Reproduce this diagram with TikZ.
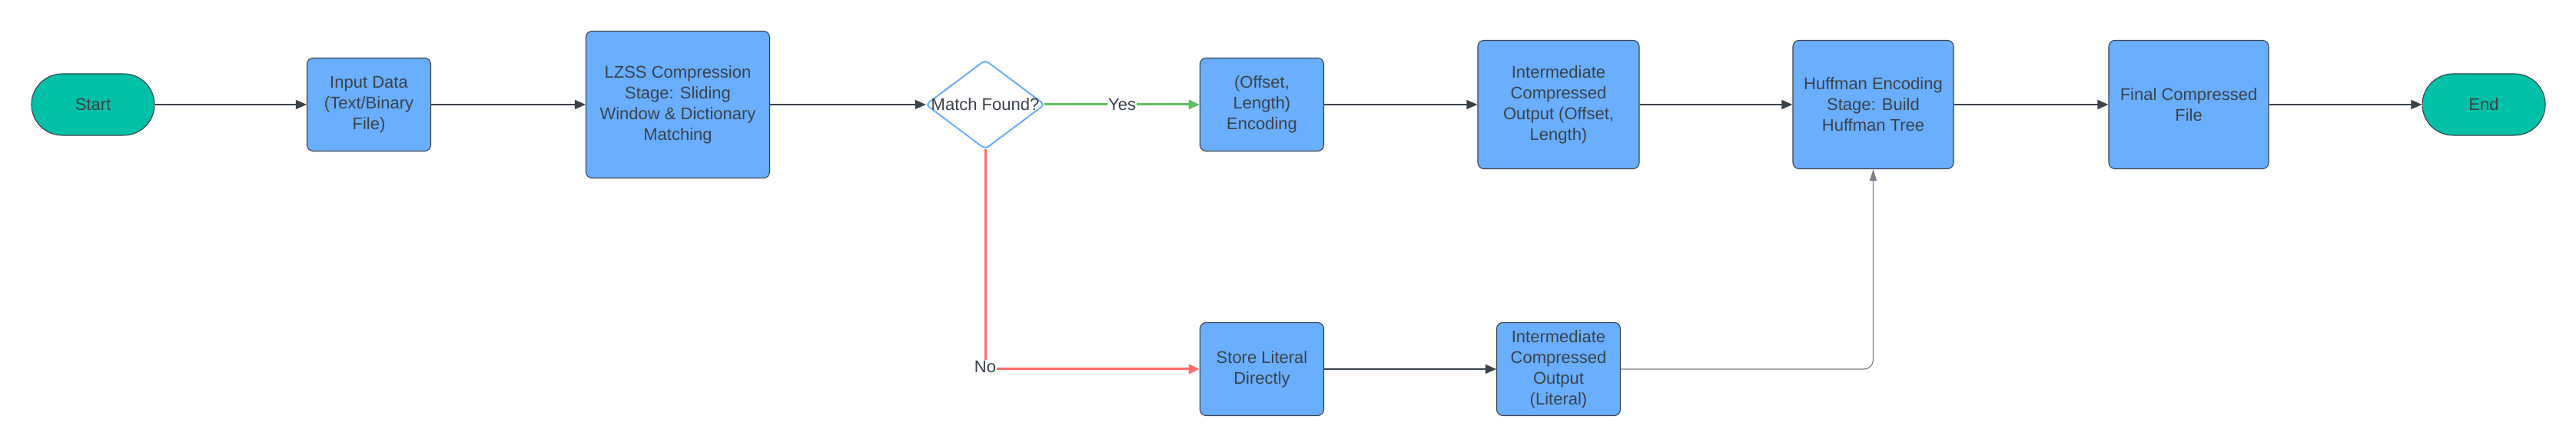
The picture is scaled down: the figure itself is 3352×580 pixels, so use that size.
\documentclass[tikz,border=0pt]{standalone}
\usepackage{fontspec}
\setmainfont{Liberation Sans}
\usetikzlibrary{arrows.meta}
\definecolor{boxblue}{HTML}{6AAFFF}
\definecolor{termteal}{HTML}{00C1A7}
\definecolor{ink}{HTML}{3A414A}
\definecolor{yesgreen}{HTML}{5CC05C}
\definecolor{nored}{HTML}{FF6B6B}
\definecolor{feedgray}{HTML}{7A8088}
\begin{document}
\begin{tikzpicture}[x=1pt,y=1pt,
  font=\fontsize{22}{27}\selectfont, text=ink,
  proc/.style={rectangle, rounded corners=8pt, fill=boxblue, draw=ink,
    line width=1.1pt, align=center, inner sep=0pt},
  term/.style={rectangle, rounded corners=40pt, fill=termteal, draw=ink,
    line width=1.1pt, minimum width=160pt, minimum height=80pt, inner sep=0pt},
  decnode/.style={rectangle, inner sep=0pt, minimum width=154pt, minimum height=115pt},
  decborder/.style={draw=boxblue, line width=2pt, fill=white, rounded corners=5pt},
  flow/.style={draw=ink, line width=1.2pt, -{Triangle[length=14pt,width=12pt]}},
  yesflow/.style={draw=yesgreen, line width=3pt, -{Triangle[length=14pt,width=12pt]}},
  noflow/.style={draw=nored, line width=3pt, -{Triangle[length=14pt,width=12pt]}},
  feed/.style={draw=feedgray, line width=1.2pt, rounded corners=12pt,
    -{Triangle[length=15pt,width=9pt]}},
  lbl/.style={fill=white, inner sep=1pt, text=ink}
]
\useasboundingbox (0,0) rectangle (3352,580);

% top row
\node[term] (start) at (121,444) {Start};
\node[proc, minimum width=161pt, minimum height=121pt] (input) at (480,444)
  {Input Data\\(Text/Binary\\File)};
\node[proc, minimum width=239pt, minimum height=191pt] (lzss) at (882,444)
  {LZSS Compression\\Stage: Sliding\\Window \& Dictionary\\Matching};
\node[decnode] (dec) at (1282,444) {};
\draw[decborder] (dec.north) -- (dec.east) -- (dec.south) -- (dec.west) -- cycle;
\node at (dec.center) {Match Found?};
\node[proc, minimum width=161pt, minimum height=121pt] (off) at (1642,444)
  {(Offset,\\Length)\\Encoding};
\node[proc, minimum width=210pt, minimum height=167pt] (int1) at (2028,444)
  {Intermediate\\Compressed\\Output (Offset,\\Length)};
\node[proc, minimum width=209pt, minimum height=167pt] (huff) at (2437.5,444)
  {Huffman Encoding\\Stage: Build\\Huffman Tree};
\node[proc, minimum width=208pt, minimum height=167pt] (final) at (2848,444)
  {Final Compressed\\File};
\node[term] (end) at (3232,444) {End};

% bottom row
\node[proc, minimum width=161pt, minimum height=121pt] (store) at (1642,100)
  {Store Literal\\Directly};
\node[proc, minimum width=161pt, minimum height=121pt] (int2) at (2028,100)
  {Intermediate\\Compressed\\Output\\(Literal)};

% connectors
\draw[flow] (start.east) -- (input.west);
\draw[flow] (input.east) -- (lzss.west);
\draw[flow] (lzss.east) -- (dec.west);
\draw[yesflow] (dec.east) -- node[lbl]{Yes} (off.west);
\draw[noflow] (dec.south) |- node[lbl, pos=0.5, yshift=3pt]{No} (store.west);
\draw[flow] (off.east) -- (int1.west);
\draw[flow] (int1.east) -- (huff.west);
\draw[flow] (huff.east) -- (final.west);
\draw[flow] (final.east) -- (end.west);
\draw[flow] (store.east) -- (int2.west);
\draw[feed] (int2.east) -| (huff.south);
\end{tikzpicture}
\end{document}
